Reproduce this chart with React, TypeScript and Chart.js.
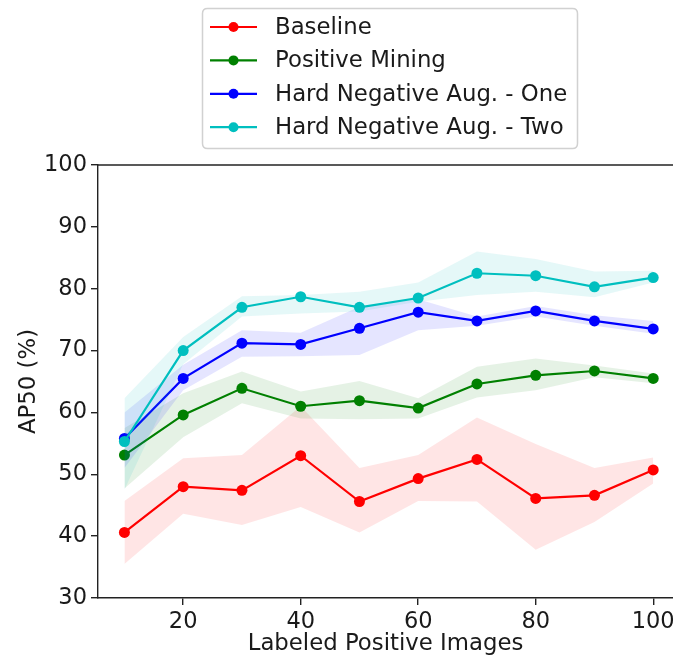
import React, { useEffect, useRef } from "react";
import { Chart, registerables } from "chart.js";

Chart.register(...registerables);

const xValues = [10, 20, 30, 40, 50, 60, 70, 80, 90, 100];
const xTicks = [20, 40, 60, 80, 100];

const baseline = [40.6, 48.0, 47.4, 53.0, 45.6, 49.3, 52.4, 46.1, 46.6, 50.7];
const baselineUpper = [45.7, 52.6, 53.1, 61.0, 51.0, 53.1, 59.2, 54.9, 51.0, 52.7];
const baselineLower = [35.5, 43.6, 41.8, 44.7, 40.6, 45.7, 45.6, 37.8, 42.3, 48.5];

const positive = [53.1, 59.6, 63.9, 61.0, 61.9, 60.7, 64.6, 66.0, 66.7, 65.5];
const positiveUpper = [57.5, 63.1, 66.6, 63.4, 65.1, 62.3, 67.4, 68.7, 67.6, 66.3];
const positiveLower = [47.7, 56.0, 61.5, 59.0, 58.9, 59.0, 62.4, 63.6, 65.7, 64.7];

const hardOne = [55.8, 65.5, 71.2, 71.0, 73.6, 76.2, 74.8, 76.4, 74.8, 73.5];
const hardOneUpper = [60.0, 67.7, 73.3, 72.9, 77.1, 78.3, 75.5, 77.2, 75.7, 74.8];
const hardOneLower = [51.0, 63.6, 69.0, 69.1, 69.3, 73.3, 74.0, 75.5, 74.0, 72.7];

const hardTwo = [55.3, 70.0, 77.0, 78.7, 77.0, 78.5, 82.5, 82.1, 80.3, 81.8];
const hardTwoUpper = [62.3, 72.2, 78.8, 79.0, 79.5, 81.0, 86.0, 84.8, 82.8, 82.9];
const hardTwoLower = [47.5, 67.8, 75.5, 76.0, 76.3, 77.9, 79.0, 79.5, 78.6, 81.0];

const seriesNames = [
  "Baseline",
  "Positive Mining",
  "Hard Negative Aug. - One",
  "Hard Negative Aug. - Two",
];
const seriesColors = ["#ff0000", "#008000", "#0000ff", "#00bfbf"];
const bandColors = [
  "rgba(255,0,0,0.1)",
  "rgba(0,128,0,0.1)",
  "rgba(0,0,255,0.1)",
  "rgba(0,191,191,0.1)",
];
const seriesMeans = [baseline, positive, hardOne, hardTwo];
const seriesUppers = [baselineUpper, positiveUpper, hardOneUpper, hardTwoUpper];
const seriesLowers = [baselineLower, positiveLower, hardOneLower, hardTwoLower];

const FONT = "'DejaVu Sans', sans-serif";
const TEXT_COLOR = "#1a1a1a";

const toPoints = (ys: number[]) => xValues.map((x, i) => ({ x, y: ys[i] }));

const zeroPadding = () => ({ left: 0, top: 0, right: 0, bottom: 0 });

const framePlugin = {
  id: "frameAndLegend",
  afterDraw(chart: any) {
    const { ctx, chartArea } = chart;
    ctx.save();
    // top spine (axes box is cropped at the right edge)
    ctx.strokeStyle = "#222";
    ctx.lineWidth = 1.4;
    ctx.beginPath();
    ctx.moveTo(chartArea.left, chartArea.top);
    ctx.lineTo(chart.width, chartArea.top);
    ctx.stroke();

    // legend box
    const bx = 202.5, by = 8.5, bw = 375, bh = 140, r = 5;
    ctx.beginPath();
    ctx.moveTo(bx + r, by);
    ctx.lineTo(bx + bw - r, by);
    ctx.quadraticCurveTo(bx + bw, by, bx + bw, by + r);
    ctx.lineTo(bx + bw, by + bh - r);
    ctx.quadraticCurveTo(bx + bw, by + bh, bx + bw - r, by + bh);
    ctx.lineTo(bx + r, by + bh);
    ctx.quadraticCurveTo(bx, by + bh, bx, by + bh - r);
    ctx.lineTo(bx, by + r);
    ctx.quadraticCurveTo(bx, by, bx + r, by);
    ctx.closePath();
    ctx.fillStyle = "rgba(255,255,255,0.8)";
    ctx.fill();
    ctx.strokeStyle = "rgba(204,204,204,0.9)";
    ctx.lineWidth = 1.5;
    ctx.stroke();

    ctx.font = `22.8px ${FONT}`;
    ctx.textBaseline = "middle";
    ctx.textAlign = "left";
    seriesNames.forEach((name, i) => {
      const y = 27 + i * 33.4;
      ctx.strokeStyle = seriesColors[i];
      ctx.lineWidth = 2.2;
      ctx.beginPath();
      ctx.moveTo(210, y);
      ctx.lineTo(257, y);
      ctx.stroke();
      ctx.fillStyle = seriesColors[i];
      ctx.beginPath();
      ctx.arc(233.5, y, 5, 0, Math.PI * 2);
      ctx.fill();
      ctx.fillStyle = TEXT_COLOR;
      ctx.fillText(name, 275, y + 1);
    });
    ctx.restore();
  },
};

export default function App() {
  const canvasRef = useRef<HTMLCanvasElement>(null);

  useEffect(() => {
    if (!canvasRef.current) return;
    const datasets: any[] = [];
    seriesNames.forEach((name, i) => {
      datasets.push({
        label: name + " upper",
        data: toPoints(seriesUppers[i]),
        borderColor: "transparent",
        backgroundColor: "transparent",
        borderWidth: 1,
        pointRadius: 0,
        fill: false,
      });
      datasets.push({
        label: name + " lower",
        data: toPoints(seriesLowers[i]),
        borderColor: "transparent",
        backgroundColor: bandColors[i],
        borderWidth: 1,
        pointRadius: 0,
        fill: "-1",
      });
      datasets.push({
        label: name,
        data: toPoints(seriesMeans[i]),
        borderColor: seriesColors[i],
        backgroundColor: seriesColors[i],
        pointBackgroundColor: seriesColors[i],
        pointBorderColor: seriesColors[i],
        pointBorderWidth: 0,
        pointRadius: 5.5,
        borderWidth: 2.2,
        fill: false,
        tension: 0,
      });
    });
    const n = datasets.length;
    datasets.forEach((d, i) => (d.order = n - i));

    const gridOpts = {
      drawOnChartArea: false,
      drawTicks: true,
      tickLength: 7,
      color: "#222",
      lineWidth: 1.4,
    };
    const borderOpts = { display: true, color: "#222", width: 1.4 };

    const chart = new Chart(canvasRef.current, {
      type: "line",
      data: { datasets },
      options: {
        responsive: false,
        animation: false,
        devicePixelRatio: 1,
        events: [],
        layout: {
          autoPadding: false,
          padding: { top: 165, left: 0, right: 0, bottom: 0 },
        },
        plugins: {
          legend: { display: false },
          tooltip: { enabled: false },
        },
        scales: {
          x: {
            type: "linear",
            min: 5.5,
            max: 103.37,
            afterBuildTicks: (s: any) => {
              s.ticks = xTicks.map((v) => ({ value: v }));
            },
            afterFit: (s: any) => {
              s.height = 62;
              s.paddingLeft = 0;
              s.paddingRight = 0;
              s.getPadding = zeroPadding;
            },
            grid: gridOpts,
            border: borderOpts,
            ticks: {
              color: TEXT_COLOR,
              font: { family: FONT, size: 22.5 },
              padding: 4,
              maxRotation: 0,
            },
            title: {
              display: true,
              text: "Labeled Positive Images",
              color: TEXT_COLOR,
              font: { family: FONT, size: 22.8 },
              padding: { top: 0, bottom: 2 },
            },
          },
          y: {
            type: "linear",
            min: 30,
            max: 100,
            afterFit: (s: any) => {
              s.width = 98;
              s.paddingTop = 0;
              s.paddingBottom = 0;
              s.getPadding = zeroPadding;
            },
            grid: gridOpts,
            border: borderOpts,
            ticks: {
              stepSize: 10,
              color: TEXT_COLOR,
              font: { family: FONT, size: 22.5 },
              padding: 4,
            },
            title: {
              display: true,
              text: "AP50 (%)",
              color: TEXT_COLOR,
              font: { family: FONT, size: 22.8 },
              padding: { top: 15, bottom: 0 },
            },
          },
        },
      },
      plugins: [framePlugin],
    });
    return () => chart.destroy();
  }, []);

  return (
    <div
      style={{
        position: "absolute",
        left: 0,
        top: 0,
        width: 673,
        height: 660,
        overflow: "hidden",
        background: "#fff",
      }}
    >
      <canvas
        ref={canvasRef}
        width={673}
        height={660}
        style={{ width: 673, height: 660, display: "block" }}
      />
    </div>
  );
}
